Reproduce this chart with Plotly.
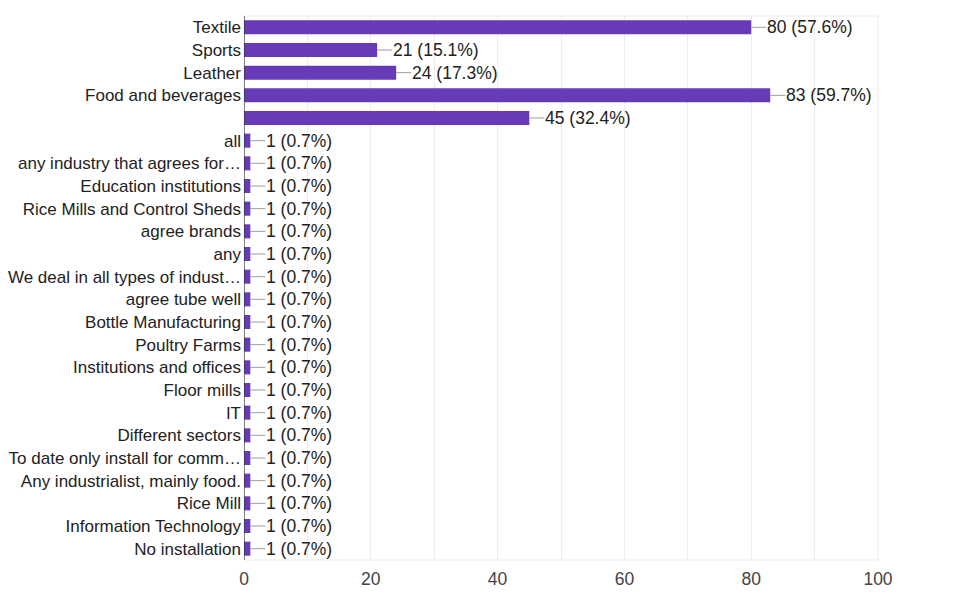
import plotly.graph_objects as go

# categories top to bottom, as shown in the form summary
categories = [
    "Textile", "Sports", "Leather", "Food and beverages", "",
    "all", "any industry that agrees for…", "Education institutions",
    "Rice Mills and Control Sheds", "agree brands", "any",
    "We deal in all types of indust…", "agree tube well",
    "Bottle Manufacturing", "Poultry Farms", "Institutions and offices",
    "Floor mills", "IT", "Different sectors",
    "To date only install for comm…", "Any industrialist, mainly food.",
    "Rice Mill", "Information Technology", "No installation",
]
counts = [80, 21, 24, 83, 45] + [1] * 19
percents = [57.6, 15.1, 17.3, 59.7, 32.4] + [0.7] * 19

positions = list(range(len(categories)))
labels = [f"{c} ({p}%)" for c, p in zip(counts, percents)]

fig = go.Figure()
fig.add_trace(go.Bar(
    x=counts,
    y=positions,
    orientation="h",
    marker=dict(color="#673ab7", line=dict(width=0)),
    hoverinfo="x+y",
    showlegend=False,
))

# value labels with the short grey leader line
for pos, val, lab in zip(positions, counts, labels):
    fig.add_annotation(
        x=val, y=pos, text=lab,
        showarrow=True, arrowhead=0, arrowwidth=1, arrowcolor="#9e9e9e",
        ax=15, ay=0, xanchor="left", borderpad=0,
        font=dict(family="Liberation Sans, Arial", size=17.5, color="#222222"),
    )

# the page body adds 8px, so the figure is 8px smaller and margins shifted
fig.update_layout(
    width=967, height=606,
    margin=dict(l=236, r=97, t=8, b=54),
    paper_bgcolor="white", plot_bgcolor="white",
    bargap=0.38,
    font=dict(family="Liberation Sans, Arial", size=17, color="#222222"),
    xaxis=dict(
        range=[0, 100], tickvals=[0, 20, 40, 60, 80, 100],
        showgrid=False, zeroline=False,
        tickfont=dict(size=17.5, color="#444444"),
        ticks="", showline=False, ticklabelstandoff=6,
        automargin=False,
        minor=dict(dtick=10, showgrid=True, gridcolor="#ececec", gridwidth=1),
    ),
    yaxis=dict(
        tickvals=positions, ticktext=categories,
        range=[len(categories) - 0.5, -0.5],
        showgrid=False, zeroline=False, ticks="",
        ticklabelstandoff=2, automargin=False,
        tickfont=dict(size=17, color="#222222"),
    ),
)

# plot frame: faint top/bottom/right, dark axis at zero
fig.add_shape(type="rect", xref="paper", yref="paper", x0=0, x1=1, y0=0, y1=1,
              line=dict(color="#ececec", width=1), layer="below")
fig.add_shape(type="line", xref="x", yref="paper", x0=0, x1=0, y0=0, y1=1,
              line=dict(color="#333333", width=1.2))

fig.write_html("out.html")
